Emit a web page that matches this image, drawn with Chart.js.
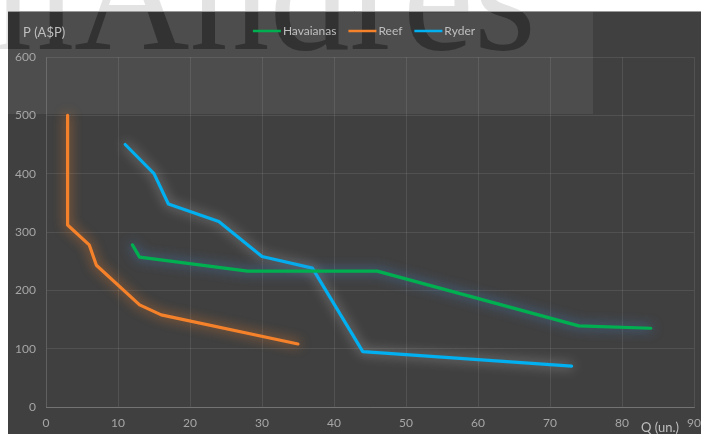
<!DOCTYPE html>
<html>
<head>
<meta charset="utf-8">
<script src="https://cdn.jsdelivr.net/npm/chart.js@4/dist/chart.umd.min.js"></script>
<style>
  html, body { margin: 0; padding: 0; background: #ffffff; }
  canvas { display: block; }
</style>
</head>
<body>
<canvas id="c" width="701" height="434"></canvas>
<script>
// ---- data ----
const seriesNames = ['Havaianas', 'Reef', 'Ryder'];
const qHavaianas = [12, 13, 28, 46, 74, 84];
const pHavaianas = [278, 257, 233, 233, 139, 135];
const qReef = [3, 3, 6, 7, 13, 16, 35];
const pReef = [500, 312, 278, 243, 175, 158, 108];
const qRyder = [11, 15, 17, 24, 30, 37, 44, 73];
const pRyder = [450, 400, 348, 318, 258, 238, 95, 70];
const xTicks = [0, 10, 20, 30, 40, 50, 60, 70, 80, 90];
const yTicks = [0, 100, 200, 300, 400, 500, 600];
const yTitle = 'P (A$P)';
const xTitle = 'Q (un.)';
const watermark = 'nAndres';

function pts(q, p) { return q.map((v, i) => ({ x: v, y: p[i] })); }

const colors = ['#00b050', '#f5822a', '#00b0f0'];
const glows = ['rgba(70,130,200,0.9)', 'rgba(245,130,42,0.85)', 'rgba(225,225,225,0.6)'];

const FONT = 'Lato, "Open Sans", sans-serif';

const bgPlugin = {
  id: 'bg',
  beforeDraw(chart) {
    const ctx = chart.ctx;
    const W = chart.width, H = chart.height;
    ctx.save();
    ctx.fillStyle = '#ffffff';
    ctx.fillRect(0, 0, W, H);
    ctx.font = '160px "Liberation Serif", serif';
    ctx.textAlign = 'right';
    ctx.textBaseline = 'alphabetic';
    ctx.fillStyle = '#e3e3e3';
    ctx.fillText(watermark, 536, 49);
    ctx.beginPath();
    ctx.rect(8, 11, W - 8, H - 11);
    ctx.clip();
    ctx.fillStyle = '#404040';
    ctx.fillRect(8, 11, W - 8, H - 11);
    ctx.fillStyle = '#4d4d4d';
    ctx.fillRect(8, 11, 585, 103);
    ctx.fillStyle = 'rgba(38,38,38,0.7)';
    ctx.fillText(watermark, 536, 49);
    ctx.restore();
    ctx.save();
    ctx.strokeStyle = '#9a9a9a';
    ctx.lineWidth = 1;
    ctx.beginPath();
    ctx.moveTo(8, 11.5);
    ctx.lineTo(W, 11.5);
    ctx.stroke();
    ctx.restore();
  }
};

const glowPlugin = {
  id: 'glow',
  beforeDatasetDraw(chart, args) {
    const ctx = chart.ctx;
    ctx.save();
    ctx.shadowColor = glows[args.index];
    ctx.shadowBlur = 12;
    ctx.shadowOffsetX = 0;
    ctx.shadowOffsetY = 0;
  },
  afterDatasetDraw(chart) {
    chart.ctx.restore();
  }
};

const textPlugin = {
  id: 'texts',
  afterDraw(chart) {
    const ctx = chart.ctx;
    ctx.save();
    ctx.font = '13px ' + FONT;
    ctx.fillStyle = '#bfbfbf';
    ctx.textAlign = 'left';
    ctx.textBaseline = 'middle';
    ctx.fillText(yTitle, 23, 33);
    ctx.fillText(xTitle, 641, 428);
    ctx.font = '12px ' + FONT;
    const lineW = 28, gapT = 2, gapItem = 12;
    const widths = chart.data.datasets.map(d => ctx.measureText(d.label).width);
    let total = 0;
    widths.forEach((w, i) => { total += lineW + gapT + w + (i < widths.length - 1 ? gapItem : 0); });
    let x = 364 - total / 2;
    const y = 31;
    chart.data.datasets.forEach((d, i) => {
      ctx.strokeStyle = d.borderColor;
      ctx.lineWidth = 2.5;
      ctx.beginPath();
      ctx.moveTo(x, y);
      ctx.lineTo(x + lineW, y);
      ctx.stroke();
      x += lineW + gapT;
      ctx.fillStyle = '#bfbfbf';
      ctx.fillText(d.label, x, y);
      x += widths[i] + gapItem;
    });
    ctx.restore();
  }
};

new Chart(document.getElementById('c'), {
  type: 'line',
  data: {
    datasets: [
      { label: seriesNames[0], data: pts(qHavaianas, pHavaianas), borderColor: colors[0], backgroundColor: colors[0] },
      { label: seriesNames[1], data: pts(qReef, pReef), borderColor: colors[1], backgroundColor: colors[1] },
      { label: seriesNames[2], data: pts(qRyder, pRyder), borderColor: colors[2], backgroundColor: colors[2] }
    ]
  },
  options: {
    responsive: false,
    animation: false,
    devicePixelRatio: 1,
    elements: {
      line: { borderWidth: 3.2, tension: 0, borderCapStyle: 'round', borderJoinStyle: 'round', fill: false },
      point: { radius: 0, hoverRadius: 0 }
    },
    layout: { padding: { left: 0, right: 7, top: 57, bottom: 0 } },
    plugins: {
      legend: { display: false },
      tooltip: { enabled: false },
      title: { display: false }
    },
    scales: {
      x: {
        type: 'linear',
        min: xTicks[0],
        max: xTicks[xTicks.length - 1],
        afterBuildTicks(scale) { scale.ticks = xTicks.map(v => ({ value: v })); },
        afterFit(scale) { scale.height = 27; scale.paddingLeft = 0; scale.paddingRight = 0; },
        grid: { color: 'rgba(255,255,255,0.09)', lineWidth: 1, drawTicks: false },
        border: { color: 'rgba(255,255,255,0.2)', width: 1 },
        ticks: { color: '#a6a6a6', font: { family: FONT, size: 12 }, padding: 9, maxRotation: 0, autoSkip: false }
      },
      y: {
        type: 'linear',
        min: yTicks[0],
        max: yTicks[yTicks.length - 1],
        afterBuildTicks(scale) { scale.ticks = yTicks.map(v => ({ value: v })); },
        afterFit(scale) { scale.width = 46; scale.paddingTop = 0; scale.paddingBottom = 0; },
        grid: { color: 'rgba(255,255,255,0.09)', lineWidth: 1, drawTicks: false },
        border: { color: 'rgba(255,255,255,0.09)', width: 1 },
        ticks: { color: '#a6a6a6', font: { family: FONT, size: 12 }, padding: 10, autoSkip: false }
      }
    }
  },
  plugins: [bgPlugin, glowPlugin, textPlugin]
});
</script>
</body>
</html>
